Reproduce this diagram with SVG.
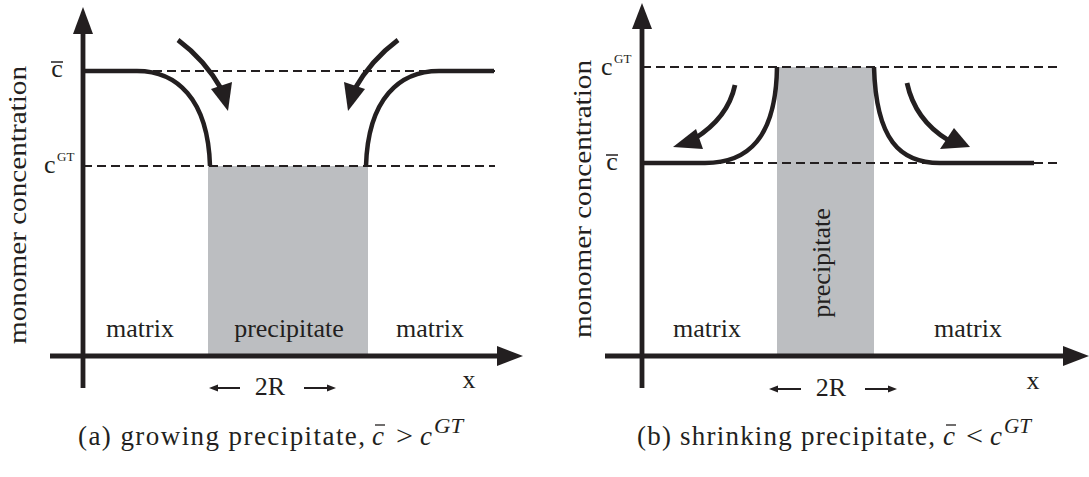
<svg xmlns="http://www.w3.org/2000/svg" width="1089" height="477" viewBox="0 0 1089 477">
<style>
  .axis{stroke:#231f20;stroke-width:4.8;fill:none}
  .curve{stroke:#231f20;stroke-width:4.5;fill:none}
  .flux{stroke:#231f20;stroke-width:4.8;fill:none}
  .dash{stroke:#231f20;stroke-width:2.2;stroke-dasharray:9,5;fill:none}
  .head{fill:#231f20;stroke:none}
  .ppt{fill:#bcbec1}
  .t{font-family:"Liberation Serif","Times New Roman",serif;fill:#231f20}
  .lbl{font-size:26px}
  .cap{font-size:27px}
  .it{font-style:italic}
</style>
<rect width="1089" height="477" fill="#ffffff"/>

<!-- ===== Panel (a) ===== -->
<g id="a-precipitate">
  <rect class="ppt" x="208" y="166" width="160" height="190"/>
  <text class="t lbl" x="289" y="337" text-anchor="middle">precipitate</text>
</g>
<g id="a-matrix-left"><text class="t lbl" x="140" y="337" text-anchor="middle">matrix</text></g>
<g id="a-matrix-right"><text class="t lbl" x="430" y="337" text-anchor="middle">matrix</text></g>

<g id="a-connectors">
  <line class="dash" x1="83" y1="71" x2="495" y2="71"/>
  <line class="dash" x1="83" y1="166" x2="495" y2="166"/>
  <path class="curve" d="M83,71 H137 C176,71 208,98 210,166"/>
  <path class="curve" d="M494,71 H439 C400,71 368,98 366,166"/>
  <!-- flux arrows -->
  <path class="flux" d="M178,40 Q205,60 222,90"/>
  <polygon class="head" points="228,111 211,89 232,82"/>
  <path class="flux" d="M398,40 Q371,60 354,90"/>
  <polygon class="head" points="348,111 365,89 344,82"/>
  <!-- axes -->
  <line class="axis" x1="83" y1="30" x2="83" y2="388"/>
  <polygon class="head" points="83,7 73,34 93,34"/>
  <line class="axis" x1="50" y1="356" x2="500" y2="356"/>
  <polygon class="head" points="523,356 497,346 497,366"/>
  <!-- 2R arrows -->
  <line stroke="#231f20" stroke-width="2" x1="214" y1="388" x2="240" y2="388"/>
  <polygon class="head" points="209,388 218,384.5 218,391.5"/>
  <line stroke="#231f20" stroke-width="2" x1="304" y1="388" x2="331" y2="388"/>
  <polygon class="head" points="336,388 327,384.5 327,391.5"/>
</g>

<g id="a-labels">
  <text class="t lbl" x="270" y="395" text-anchor="middle">2R</text>
  <text class="t lbl" x="469" y="388" text-anchor="middle">x</text>
  <text class="t lbl" x="57" y="77" text-anchor="middle">c</text>
  <line stroke="#231f20" stroke-width="1.5" x1="51" y1="62" x2="63" y2="62"/>
  <text class="t lbl" x="44" y="173">c</text>
  <text class="t" font-size="13" x="57" y="161">GT</text>
  <text class="t lbl" transform="translate(26,205) rotate(-90)" text-anchor="middle" textLength="278" lengthAdjust="spacingAndGlyphs">monomer concentration</text>
  <text class="t cap" x="78" y="445" textLength="287">(a) growing precipitate,</text>
  <text class="t cap it" x="372" y="445">c</text>
  <line stroke="#231f20" stroke-width="1.3" x1="375" y1="425" x2="385" y2="425"/>
  <text class="t cap" x="396" y="445" textLength="17" lengthAdjust="spacingAndGlyphs">&gt;</text>
  <text class="t cap it" x="420" y="445">c</text>
  <text class="t it" font-size="20" x="434" y="433" textLength="29" lengthAdjust="spacingAndGlyphs">GT</text>
</g>

<!-- ===== Panel (b) ===== -->
<g id="b-precipitate">
  <rect class="ppt" x="777" y="67" width="97" height="289"/>
  <text class="t lbl" transform="translate(830,263) rotate(-90)" text-anchor="middle">precipitate</text>
</g>
<g id="b-matrix-left"><text class="t lbl" x="707" y="337" text-anchor="middle">matrix</text></g>
<g id="b-matrix-right"><text class="t lbl" x="968" y="337" text-anchor="middle">matrix</text></g>

<g id="b-connectors">
  <line class="dash" x1="642" y1="67" x2="1058" y2="67"/>
  <line class="dash" x1="642" y1="163" x2="1058" y2="163"/>
  <path class="curve" d="M642,163 H705 C748,163 776,138 777,67"/>
  <path class="curve" d="M874,67 C876,140 900,163 940,163 H1034"/>
  <!-- flux arrows -->
  <path class="flux" d="M735,85 Q728,118 694,139"/>
  <polygon class="head" points="673,147 696,129 703,149"/>
  <path class="flux" d="M907,83 Q915,120 948,140"/>
  <polygon class="head" points="970,147 954,128 940,149"/>
  <!-- axes -->
  <line class="axis" x1="642" y1="26" x2="642" y2="388"/>
  <polygon class="head" points="642,3 632,29 652,29"/>
  <line class="axis" x1="605" y1="356" x2="1066" y2="356"/>
  <polygon class="head" points="1089,356 1063,346 1063,366"/>
  <!-- 2R arrows -->
  <line stroke="#231f20" stroke-width="2" x1="774" y1="389" x2="801" y2="389"/>
  <polygon class="head" points="769,389 778,385.5 778,392.5"/>
  <line stroke="#231f20" stroke-width="2" x1="865" y1="389" x2="892" y2="389"/>
  <polygon class="head" points="897,389 888,385.5 888,392.5"/>
</g>

<g id="b-labels">
  <text class="t lbl" x="831" y="396" text-anchor="middle">2R</text>
  <text class="t lbl" x="1033" y="389" text-anchor="middle">x</text>
  <text class="t lbl" x="601" y="75">c</text>
  <text class="t" font-size="13" x="614" y="63">GT</text>
  <text class="t lbl" x="612" y="170" text-anchor="middle">c</text>
  <line stroke="#231f20" stroke-width="1.5" x1="606" y1="155" x2="618" y2="155"/>
  <text class="t lbl" transform="translate(591,199) rotate(-90)" text-anchor="middle" textLength="278" lengthAdjust="spacingAndGlyphs">monomer concentration</text>
  <text class="t cap" x="637" y="445" textLength="298">(b) shrinking precipitate,</text>
  <text class="t cap it" x="943" y="445">c</text>
  <line stroke="#231f20" stroke-width="1.3" x1="946" y1="425" x2="956" y2="425"/>
  <text class="t cap" x="966" y="445" textLength="17" lengthAdjust="spacingAndGlyphs">&lt;</text>
  <text class="t cap it" x="990" y="445">c</text>
  <text class="t it" font-size="20" x="1004" y="433" textLength="27" lengthAdjust="spacingAndGlyphs">GT</text>
</g>
</svg>
